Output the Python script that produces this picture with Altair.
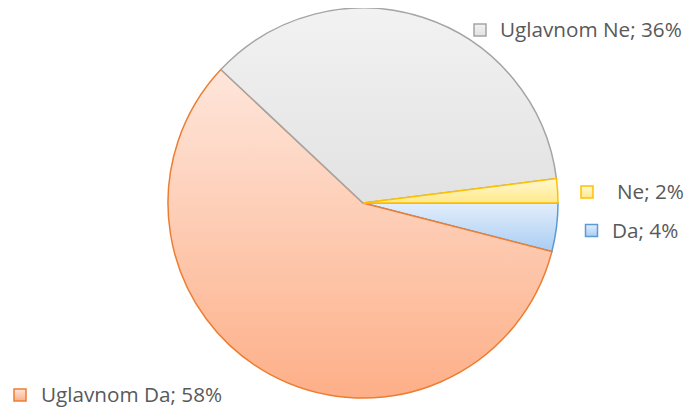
import altair as alt
import pandas as pd

categories = ["Da", "Uglavnom Da", "Uglavnom Ne", "Ne"]
values = [4, 58, 36, 2]
order = [0, 1, 2, 3]

df = pd.DataFrame({"cat": categories, "value": values, "order": order})

strokes = {"Da": "#5B9BD5", "Uglavnom Da": "#ED7D31", "Uglavnom Ne": "#A5A5A5", "Ne": "#FFC000"}
grads = {
    "Da": ("#E3EEFB", "#A9CDF3"),
    "Uglavnom Da": ("#FEE6DB", "#FDAF88"),
    "Uglavnom Ne": ("#F2F2F2", "#E2E2E2"),
    "Ne": ("#FFF8D2", "#FFE98A"),
}


def grad(c):
    a, b = grads[c]
    return alt.Gradient(gradient="linear", x1=0, x2=0, y1=0, y2=1,
                        stops=[alt.GradientStop(color=a, offset=0),
                               alt.GradientStop(color=b, offset=1)])


CX, CY, R = 355, 195, 195

base = (
    alt.Chart(df)
    .transform_joinaggregate(total="sum(value)")
    .transform_window(cum="sum(value)", sort=[alt.SortField("order")], frame=[None, 0])
    .transform_calculate(
        t1="PI/2 + 2*PI*datum.cum/datum.total",
        t0="PI/2 + 2*PI*(datum.cum - datum.value)/datum.total",
        label="datum.cat + '; ' + datum.value + '%'",
    )
)

layers = []
for c in categories:
    layers.append(
        base.transform_filter(alt.datum.cat == c)
        .mark_arc(fill=grad(c), stroke=strokes[c], strokeWidth=1.5)
        .encode(theta=alt.Theta("t0:Q", scale=None), theta2="t1:Q",
                x=alt.value(CX), y=alt.value(CY), radius=alt.value(R))
    )

# label annotations: (square x, square y, text x)
label_pos = {
    "Uglavnom Ne": (472, 22, 492),
    "Ne": (579, 184, 609),
    "Da": (583.5, 222.5, 604),
    "Uglavnom Da": (12, 387, 33),
}
for c in categories:
    sx, sy, tx = label_pos[c]
    layers.append(
        base.transform_filter(alt.datum.cat == c)
        .mark_rect(fill=grad(c), stroke=strokes[c], strokeWidth=1.5)
        .encode(x=alt.value(sx - 6), x2=alt.value(sx + 6),
                y=alt.value(sy - 6), y2=alt.value(sy + 6))
    )
    layers.append(
        base.transform_filter(alt.datum.cat == c)
        .mark_text(font="Open Sans", fontSize=20.7, color="#595959", align="left", baseline="middle")
        .encode(text="label:N", x=alt.value(tx), y=alt.value(sy + 1))
    )

chart = (
    alt.layer(*layers)
    .properties(width=678, height=400, padding=0, autosize=alt.AutoSizeParams(type="none"))
    .configure_view(stroke=None)
)

chart.save("out.html", embed_options={"renderer": "svg", "actions": False})
